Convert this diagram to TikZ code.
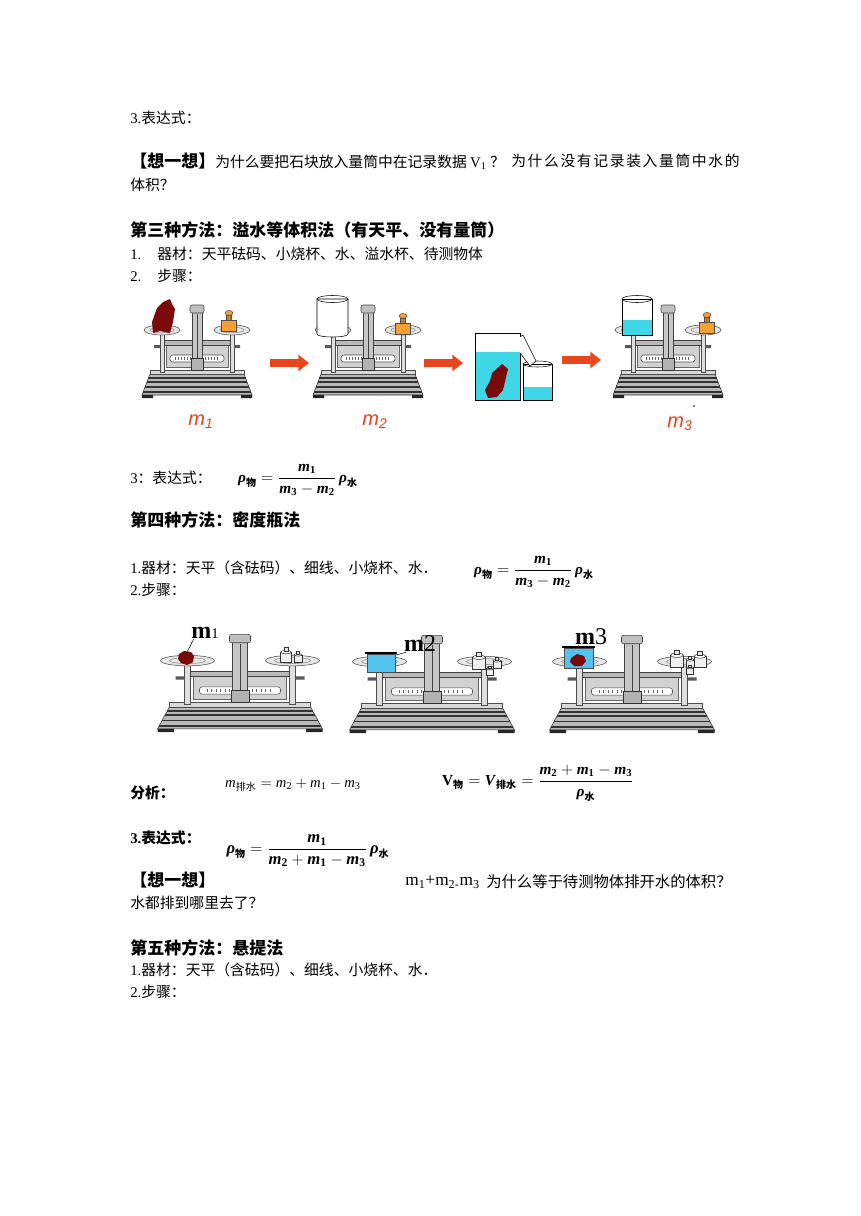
\documentclass[tikz,border=0pt]{standalone}
\usepackage{amsmath}
\usepackage{fontspec}
\setmainfont{Liberation Serif}
\newfontfamily\cjk{Noto Sans CJK SC}
\newfontfamily\lsans{Liberation Sans}
\usetikzlibrary{arrows.meta}

\definecolor{rockred}{HTML}{7A0A0A}
\definecolor{arrowred}{HTML}{E8461E}
\definecolor{brass}{HTML}{F5A033}
\definecolor{water}{HTML}{3FD6E6}
\definecolor{beakerblue}{HTML}{52C2EE}
\definecolor{labred}{HTML}{E8401C}

\newcommand\vm[1]{\textbf{\textit{#1}}}
\newcommand\zsub[1]{\mbox{\cjk\bfseries\fontsize{7.5}{8}\selectfont #1}}
\newcommand\zsubr[1]{\mbox{\cjk\fontsize{7.5}{8}\selectfont #1}}

\tikzset{
  txt/.style={anchor=west, inner sep=0pt, font=\cjk\fontsize{11.1}{13}\selectfont},
  head/.style={txt, font=\cjk\bfseries\fontsize{12.75}{15}\selectfont},
  fml/.style={inner sep=0pt, font=\fontsize{11.5}{14}\selectfont},
  redm/.style={inner sep=0pt, text=labred, font=\lsans\itshape\fontsize{15}{15}\selectfont},
  mlab/.style={inner sep=0pt, font=\fontsize{18}{18}\selectfont},
  blockarrow/.style={draw=arrowred, line width=5.6pt, -{Triangle[length=8pt,width=12pt]}},
  balance/.pic={
    % base
    \filldraw[fill=gray!55, draw=black!80] (-55,-3) -- (55,-3) -- (47,-24) -- (-47,-24) -- cycle;
    \foreach \yy in {-6,-11,-16,-20}
      \draw[black!80, line width=1.2pt] ({-47-8*(\yy+24)/21},\yy) -- ({47+8*(\yy+24)/21},\yy);
    \fill[black!85] (-55,-3) rectangle (-44,0) (44,-3) rectangle (55,0);
    \filldraw[fill=gray!30, draw=black!70] (-47,-28) rectangle (47,-24);
    % posts and beam
    \filldraw[fill=gray!25, draw=black!70] (-37,-66) rectangle (-33,-26) (33,-66) rectangle (37,-26);
    \filldraw[fill=gray!35, draw=black!60] (-31,-56) rectangle (31,-31);
    \filldraw[fill=gray!55, draw=black!75] (-33,-58) rectangle (33,-53);
    \fill[black!65] (-43,-53) rectangle (-37,-50) (37,-53) rectangle (43,-50);
    \filldraw[fill=white, draw=black!70, rounded corners=2pt] (-27,-43) rectangle (27,-36);
    \foreach \t in {-22,-19,...,22} \draw[black!60] (\t,-41) -- (\t,-38);
    % pillar
    \filldraw[fill=gray!45, draw=black!75] (-5,-86) rectangle (5,-28);
    \draw[black!75] (0,-84) -- (0,-30);
    \filldraw[fill=gray!50, draw=black!75, rounded corners=1.5pt] (-7,-93) rectangle (7,-85);
    \filldraw[fill=gray!60, draw=black!80] (-6,-40) rectangle (6,-28);
    % pans
    \foreach \s in {-1,1} {
      \filldraw[fill=gray!20, draw=black!70] (35*\s,-68) ellipse [x radius=18, y radius=5];
      \draw[black!45] (35*\s,-68) ellipse [x radius=12, y radius=2.8];
    }
  },
  brassw/.pic={
    \filldraw[fill=brass, draw=black!70] (-7.5,-11) rectangle (7.5,0);
    \filldraw[fill=brass!80!black, draw=black!70] (-2.5,-16) rectangle (2.5,-11);
    \filldraw[fill=brass, draw=black!70] (0,-18) ellipse [x radius=4, y radius=2.5];
  },
  silverw/.pic={
    \filldraw[fill=gray!12, draw=black!80] (-5,-9) rectangle (5,0);
    \filldraw[fill=white, draw=black!80] (0,-9) ellipse [x radius=5, y radius=1.6];
    \filldraw[fill=gray!20, draw=black!80] (-2,-13) rectangle (2,-9.5);
  }
}

\begin{document}
\begin{tikzpicture}[x=0.75pt, y=-0.75pt]
\fill[white] (0,0) rectangle (860,1216);
\useasboundingbox (0,0) rectangle (860,1216);

% text, top
\node[txt] (t1) at (130,118) {{\rmfamily 3.}表达式：};
\node[txt] (t2) at (130,161) {{\bfseries\fontsize{12.75}{15}\selectfont 【想一想】}为什么要把石块放入量筒中在记录数据 {\rmfamily V\textsubscript{1}} ？};
\node[txt] (t2b) at (511,161) {\addfontfeature{LetterSpace=11}为什么没有记录装入量筒中水的};
\node[txt] (t3) at (130,185) {体积？};
\node[head] (h3) at (130,230) {第三种方法：溢水等体积法（有天平、没有量筒）};
\node[txt] (t4) at (130,254) {{\rmfamily 1.}\hspace{12pt}器材：天平砝码、小烧杯、水、溢水杯、待测物体};
\node[txt] (t5) at (130,276) {{\rmfamily 2.}\hspace{12pt}步骤：};

% row 1
\pic (b1) at (197,398) {balance};
\pic (b2) at (368,398) {balance};
\pic (b3) at (668,398) {balance};

\fill[rockred] (157,308) -- (163,302) -- (170,299) -- (172,304) -- (175,309) -- (173,322) -- (170,333) -- (160,331) -- (153,333) -- (152,322) -- cycle;
\pic at (229,331) {brassw};
\filldraw[fill=white, draw=black] (317,299) -- (317,334) .. controls (317,338) and (348,338) .. (348,334) -- (348,299) -- cycle;
\draw (332.5,299) ellipse [x radius=15.5, y radius=3.5];
\pic at (403,334) {brassw};

\fill[white] (475,333) rectangle (520,400);
\fill[water] (475,352) rectangle (520,400);
\draw (475,333) rectangle (520,400);
\fill[rockred] (492,373) -- (502,364) -- (508,369) -- (503,390) -- (497,397) -- (488,398) -- (485,390) -- (490,381) -- cycle;
\filldraw[fill=white, draw=black] (523,364) -- (523,400) -- (552,400) -- (552,364) -- cycle;
\fill[water] (523,387) rectangle (552,400);
\draw (523,364) -- (523,400) -- (552,400) -- (552,364);
\draw (537.5,364) ellipse [x radius=14.5, y radius=3];
\filldraw[fill=white, draw=black] (520,337) -- (523,335) -- (536,361) -- (530,366) -- (520,353);

\filldraw[fill=white, draw=black] (622,299) -- (622,335) -- (652,335) -- (652,299) -- cycle;
\fill[water] (622,320) rectangle (652,335);
\draw (622,299) -- (622,335) -- (652,335) -- (652,299);
\draw (637,299) ellipse [x radius=15, y radius=3.5];
\pic at (707,333) {brassw};
\fill (694,406) circle (0.9);

\coordinate (ar1s) at (270,363);
\coordinate (ar1e) at (309,363);
\coordinate (ar2s) at (424,363);
\coordinate (ar2e) at (463,363);
\coordinate (ar3s) at (562,360);
\coordinate (ar3e) at (601,360);
\draw[blockarrow] (ar1s) -- (ar1e);
\draw[blockarrow] (ar2s) -- (ar2e);
\draw[blockarrow] (ar3s) -- (ar3e);

\node[redm] (lm1) at (201,422) {m\textsubscript{1}};
\node[redm] (lm2) at (375,422) {m\textsubscript{2}};
\node[redm] (lm3) at (680,424) {m\textsubscript{3}};

% section 3 / 4
\node[txt] (t6) at (130,478) {{\rmfamily 3}：表达式：};
\node[fml] (f1) at (298,480) {$\vm{ρ}_{\zsub{物}}=\dfrac{\vm{m}_{\textbf{1}}}{\vm{m}_{\textbf{3}}-\vm{m}_{\textbf{2}}}\,\vm{ρ}_{\zsub{水}}$};
\node[head] (h4) at (130,520) {第四种方法：密度瓶法};
\node[txt] (t7) at (130,568) {{\rmfamily 1.}器材：天平（含砝码）、细线、小烧杯、水．};
\node[fml] (f2) at (534,572) {$\vm{ρ}_{\zsub{物}}=\dfrac{\vm{m}_{\textbf{1}}}{\vm{m}_{\textbf{3}}-\vm{m}_{\textbf{2}}}\,\vm{ρ}_{\zsub{水}}$};
\node[txt] (t8) at (130,590) {{\rmfamily 2.}步骤：};

% row 2
\pic[xscale=1.5, yscale=1.05] (ba) at (240,732) {balance};
\pic[xscale=1.5, yscale=1.05] (bb) at (432,733) {balance};
\pic[xscale=1.5, yscale=1.05] (bc) at (632,733) {balance};

\fill[rockred] (179,654) -- (184,651) -- (191,652) -- (194,656) -- (193,662) -- (187,665) -- (181,663) -- (178,659) -- cycle;
\pic[scale=1.1] at (286,662) {silverw};
\pic[scale=0.8] at (298,662) {silverw};

\filldraw[fill=beakerblue, draw=black!70] (367,654) -- (367,672) -- (395,672) -- (395,654) -- cycle;
\draw[black, line width=1pt] (365,653) -- (397,653);
\pic[scale=1.3] at (479,669) {silverw};
\pic[scale=0.8] at (497,668) {silverw};
\pic[scale=0.7] at (490,675) {silverw};

\filldraw[fill=beakerblue, draw=black!70] (564,648) -- (564,668) -- (593,668) -- (593,648) -- cycle;
\draw[black, line width=1pt] (562,647) -- (595,647);
\fill[rockred] (571,658) -- (577,654) -- (584,656) -- (586,661) -- (582,666) -- (574,666) -- (570,662) -- cycle;
\pic[scale=1.3] at (677,667) {silverw};
\pic[scale=0.8] at (690,667) {silverw};
\pic[scale=0.7] at (690,674) {silverw};
\pic[scale=1.2] at (700,667) {silverw};

\node[mlab] (lb1) at (205,633) {\textbf{m}\fontsize{11}{11}\selectfont 1};
\node[mlab] (lb2) at (420,644) {\textbf{m}2};
\node[mlab] (lb3) at (591,637) {\textbf{m}3};
\coordinate (pk1) at (186,654);
\coordinate (pk2) at (396,655);
\coordinate (pk3) at (578,648);
\draw ([xshift=2pt]lb1.south west) -- (pk1);
\draw ([xshift=2pt]lb2.south west) -- (pk2);
\draw ([xshift=3pt]lb3.south west) -- (pk3);

% analysis
\node[txt, font=\cjk\bfseries\fontsize{11.1}{13}\selectfont] (t9) at (130,793) {分析：};
\node[fml, font=\fontsize{11}{13}\selectfont] (f3) at (293,785) {$\textit{m}_{\zsubr{排水}} = \textit{m}_{\textrm{2}}+\textit{m}_{\textrm{1}}-\textit{m}_{\textrm{3}}$};
\node[fml] (f4) at (538,783) {$\textbf{V}_{\zsub{物}} = \vm{V}_{\zsub{排水}} = \dfrac{\vm{m}_{\textbf{2}}+\vm{m}_{\textbf{1}}-\vm{m}_{\textbf{3}}}{\vm{ρ}_{\zsub{水}}}$};
\node[txt, font=\cjk\bfseries\fontsize{11.1}{13}\selectfont] (t10) at (130,838) {{\rmfamily 3.}表达式：};
\node[fml, font=\fontsize{12.5}{14}\selectfont] (f5) at (308,851) {$\vm{ρ}_{\zsub{物}}=\dfrac{\vm{m}_{\textbf{1}}}{\vm{m}_{\textbf{2}}+\vm{m}_{\textbf{1}}-\vm{m}_{\textbf{3}}}\,\vm{ρ}_{\zsub{水}}$};
\node[head] (t11) at (130,880) {【想一想】};
\node[txt, font=\rmfamily\fontsize{13}{15}\selectfont] (t12) at (405,882) {m\textsubscript{1}+m\textsubscript{2-}m\textsubscript{3}};
\node[txt, font=\cjk\fontsize{11.5}{13}\selectfont] (t12b) at (486,882) {为什么等于待测物体排开水的体积？};
\node[txt] (t13) at (130,903) {水都排到哪里去了？};
\node[head] (h5) at (130,948) {第五种方法：悬提法};
\node[txt] (t14) at (130,970) {{\rmfamily 1.}器材：天平（含砝码）、细线、小烧杯、水．};
\node[txt] (t15) at (130,992) {{\rmfamily 2.}步骤：};
\end{tikzpicture}
\end{document}
